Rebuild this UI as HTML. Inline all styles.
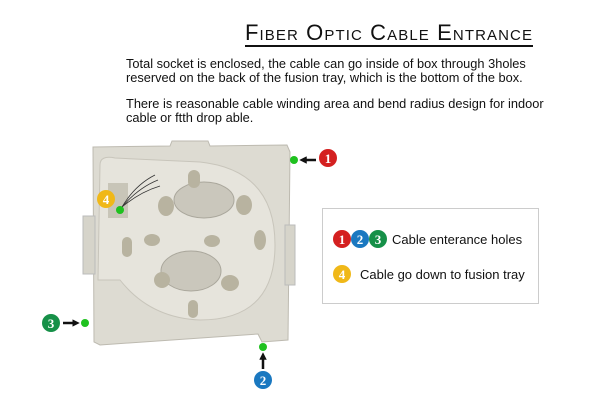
<!DOCTYPE html><html><head><style>
body{margin:0;width:600px;height:400px;background:#fff;position:relative;overflow:hidden;font-family:"Liberation Sans",sans-serif}
.t{position:absolute;left:245px;top:22px;font-size:22px;font-variant:small-caps;letter-spacing:1.1px;color:#111;border-bottom:2px solid #111;line-height:22px;padding-bottom:1px}
.p{position:absolute;left:126px;font-size:12.8px;line-height:14px;color:#111}
.lg{position:absolute;left:322px;top:208px;width:215px;height:94px;border:1px solid #ccc}
.lt{position:absolute;font-size:13px;color:#111}
</style></head><body>
<div class="t">Fiber Optic Cable Entrance</div>
<div class="p" style="top:57px">Total socket is enclosed, the cable can go inside of box through 3holes<br>reserved on the back of the fusion tray, which is the bottom of the box.</div>
<div class="p" style="top:97px">There is reasonable cable winding area and bend radius design for indoor<br>cable or ftth drop able.</div>
<div class="lg"></div>
<div class="lt" style="left:392px;top:232px">Cable enterance holes</div>
<div class="lt" style="left:360px;top:267px">Cable go down to fusion tray</div>
<svg width="600" height="400" style="position:absolute;left:0;top:0">
<defs><marker id="a" markerWidth="3" markerHeight="3" refX="1.5" refY="1.5" orient="auto"><path d="M0,0L3,1.5L0,3z" fill="#111"/></marker></defs>
<g>
<path d="M93,147 L170,146 L172,141 L208,141 L210,146 L287,145 L290,152 L288,340 L262,342 L258,334 L100,345 L94,342 Z" fill="#dddbd2" stroke="#bdbab0"/>
<rect x="83" y="216" width="12" height="58" fill="#d6d4ca" stroke="#bbb"/>
<rect x="285" y="225" width="10" height="60" fill="#d6d4ca" stroke="#bbb"/>
<path d="M100,165 Q100,155 115,158 L200,162 Q275,170 275,245 Q275,320 200,320 Q150,318 120,280 L98,280 Z" fill="#e6e4dc" stroke="#c8c5bb"/>
<ellipse cx="204" cy="200" rx="30" ry="18" fill="#cac7bc" stroke="#aaa79c"/>
<ellipse cx="191" cy="271" rx="30" ry="20" fill="#cac7bc" stroke="#aaa79c"/>
<g fill="#b8b3a0">
<ellipse cx="166" cy="206" rx="8" ry="10"/><ellipse cx="244" cy="205" rx="8" ry="10"/>
<ellipse cx="152" cy="240" rx="8" ry="6"/><ellipse cx="260" cy="240" rx="6" ry="10"/>
<ellipse cx="212" cy="241" rx="8" ry="6"/><ellipse cx="162" cy="280" rx="8" ry="8"/>
<ellipse cx="230" cy="283" rx="9" ry="8"/><rect x="188" y="300" width="10" height="18" rx="5"/>
<rect x="188" y="170" width="12" height="18" rx="6"/><rect x="122" y="237" width="10" height="20" rx="5"/>
</g>
<path d="M108,183 L128,183 L128,218 L108,218 Z" fill="#c8c5b8"/>
</g>
<g stroke="#333" stroke-width="0.8" fill="none"><path d="M122,207 Q135,185 155,175"/><path d="M122,207 Q138,188 158,180"/><path d="M122,207 Q140,192 160,186"/></g>
<circle cx="294" cy="160" r="4" fill="#1fc11f"/><line x1="316" y1="160" x2="303" y2="160" stroke="#111" stroke-width="2.5" marker-end="url(#a)"/>
<circle cx="263" cy="347" r="4" fill="#1fc11f"/><line x1="263" y1="369" x2="263" y2="356" stroke="#111" stroke-width="2.5" marker-end="url(#a)"/>
<circle cx="85" cy="323" r="4" fill="#1fc11f"/><line x1="63" y1="323" x2="76" y2="323" stroke="#111" stroke-width="2.5" marker-end="url(#a)"/>
<circle cx="120" cy="210" r="4" fill="#1fc11f"/>
<g font-family="Liberation Serif,serif" font-weight="bold" font-size="13" fill="#fff" text-anchor="middle">
<circle cx="328" cy="158" r="9" fill="#d42020"/><text x="328" y="163">1</text>
<circle cx="263" cy="380" r="9" fill="#1a78c0"/><text x="263" y="385">2</text>
<circle cx="51" cy="323" r="9" fill="#169048"/><text x="51" y="328">3</text>
<circle cx="106" cy="199" r="9" fill="#f0b818"/><text x="106" y="204">4</text>
<circle cx="342" cy="239" r="9" fill="#d42020"/><text x="342" y="244">1</text>
<circle cx="360" cy="239" r="9" fill="#1a78c0"/><text x="360" y="244">2</text>
<circle cx="378" cy="239" r="9" fill="#169048"/><text x="378" y="244">3</text>
<circle cx="342" cy="274" r="9" fill="#f0b818"/><text x="342" y="279">4</text>
</g>
</svg>
</body></html>
